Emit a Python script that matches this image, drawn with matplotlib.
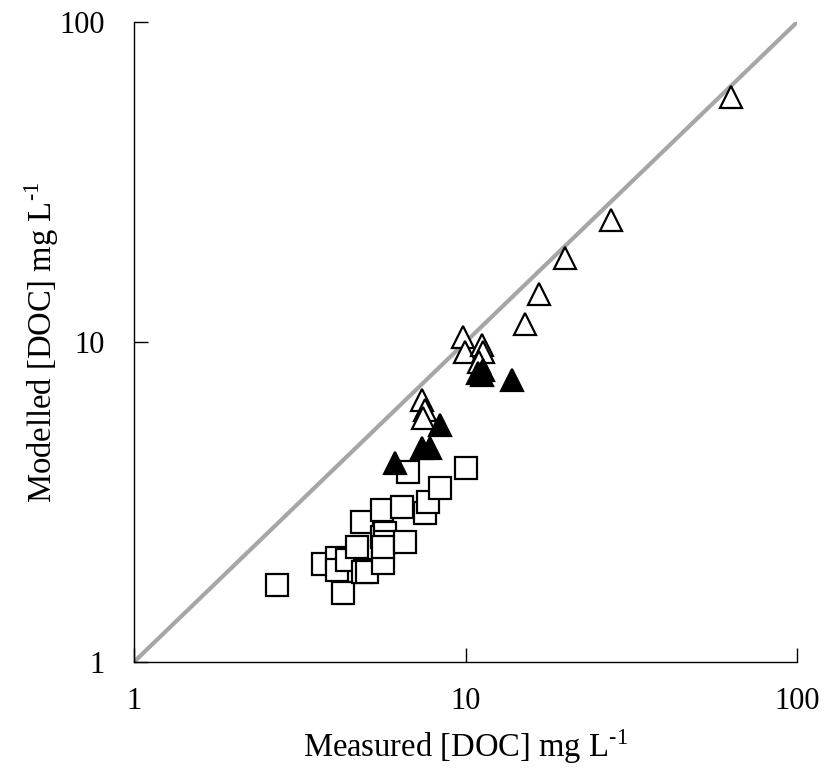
import matplotlib.pyplot as plt

plt.rcParams['font.family'] = 'Liberation Serif'
plt.rcParams['mathtext.fontset'] = 'stix'

# sites with low DOC (open squares)
sq_meas = [2.70, 3.71, 4.09, 4.09, 4.38, 4.26, 4.69, 4.86, 4.96, 4.90, 5.05,
           5.62, 5.58, 5.58, 5.70, 5.70, 5.62, 6.41, 6.55, 6.69, 7.53, 7.68,
           8.35, 10.05]
sq_mod = [1.74, 2.02, 2.11, 1.94, 2.08, 1.64, 2.29, 2.74, 1.94, 1.91, 1.91,
          2.04, 2.99, 2.46, 2.53, 2.37, 2.29, 3.05, 2.37, 3.92, 2.92, 3.16,
          3.50, 4.04]

# open triangles
ot_meas = [63.3, 27.5, 20.0, 16.7, 15.1, 9.8, 9.95, 11.2, 11.3, 11.0,
           7.37, 7.53, 7.45]
ot_mod = [58.3, 24.1, 18.3, 14.1, 11.4, 10.4, 9.3, 9.8, 9.3, 8.66,
          6.59, 6.13, 5.79]

# filled triangles
ft_meas = [11.3, 11.2, 10.9, 13.8, 8.35, 7.37, 7.79, 6.11]
ft_mod = [8.18, 7.88, 8.0, 7.6, 5.5, 4.66, 4.68, 4.19]

fig = plt.figure(figsize=(8.27, 7.72), dpi=100)
ax = fig.add_axes([0.162, 0.1425, 0.802, 0.829])

# 1:1 line
ax.plot([1, 100], [1, 100], color='#a6a6a6', lw=3, zorder=1)

ax.plot(sq_meas, sq_mod, 's', ms=15.5, mfc='white', mec='black', mew=1.6,
        linestyle='none', zorder=2)
ax.plot(ot_meas, ot_mod, '^', ms=16, mfc='white', mec='black', mew=1.6,
        linestyle='none', zorder=3)
ax.plot(ft_meas, ft_mod, '^', ms=16, mfc='black', mec='black', mew=1.6,
        linestyle='none', zorder=4)

ax.set_xscale('log')
ax.set_yscale('log')
ax.set_xlim(1, 100)
ax.set_ylim(1, 100)
ax.set_xticks([1, 10, 100])
ax.set_yticks([1, 10, 100])
ax.set_xticklabels(['1', '10', '100'])
ax.set_yticklabels(['1', '10', '100'])
ax.minorticks_off()
ax.tick_params(direction='in', length=10, width=1, labelsize=22)
ax.tick_params(axis='x', pad=18)
ax.tick_params(axis='y', pad=21)

for s in ['top', 'right']:
    ax.spines[s].set_visible(False)
for s in ['left', 'bottom']:
    ax.spines[s].set_linewidth(1)

unit = 'mg L$^{\\mathregular{\\text{-}1}}$'
ax.set_xlabel('Measured [DOC] ' + unit, fontsize=23.5, labelpad=8)
ax.set_ylabel('Modelled [DOC] ' + unit, fontsize=23.5, labelpad=-1)

fig.savefig('out.png', dpi=100)
